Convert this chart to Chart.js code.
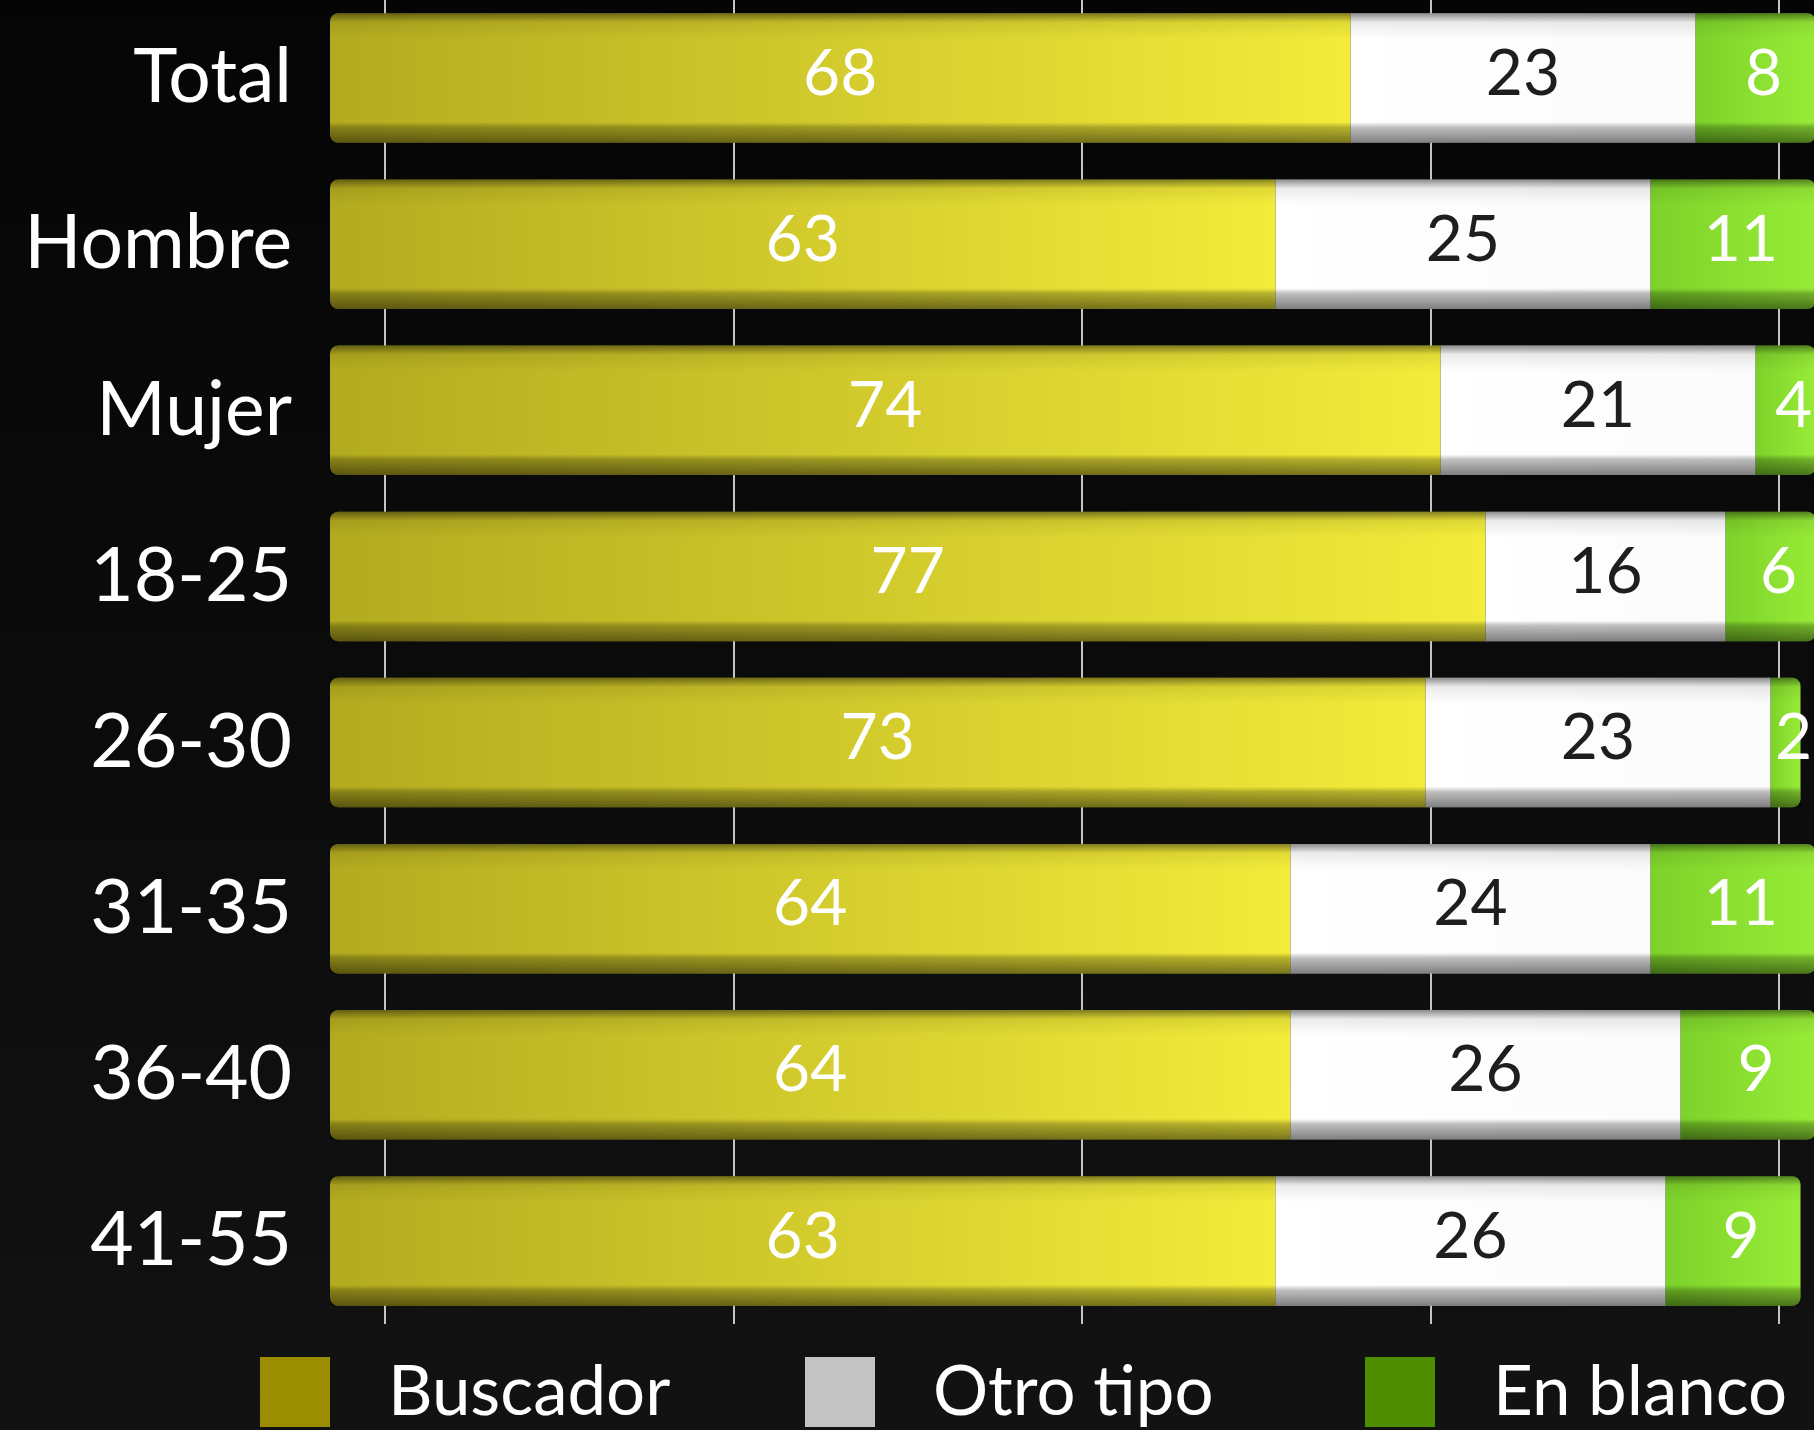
<!DOCTYPE html>
<html><head><meta charset="utf-8">
<script src="https://cdn.jsdelivr.net/npm/chart.js@4/dist/chart.umd.min.js"></script>
<style>
html,body{margin:0;padding:0;background:#0b0b0b;overflow:hidden;width:1814px;height:1430px}
#wrap{position:absolute;left:0;top:-5px;width:1814px;height:1435px}
canvas{display:block}
</style></head><body>
<div id="wrap"><canvas id="c" width="1814" height="1435"></canvas></div>
<script>
const categories = ['Total','Hombre','Mujer','18-25','26-30','31-35','36-40','41-55'];
const seriesNames = ['Buscador','Otro tipo','En blanco'];
const buscador = [68,63,74,77,73,64,64,63];
const otroTipo = [23,25,21,16,23,24,26,26];
const enBlanco = [8,11,4,6,2,11,9,9];

const FONT = 'Lato, "Open Sans", sans-serif';
const legendColors = ['#9a8e00','#c3c3c3','#4e8c00'];
const labelColors = ['#ffffff','#1e1e1e','#ffffff'];
const legendBoxX = [260, 805, 1365];

function hGrad(ctx, stops, di){
  const chart = ctx.chart;
  const xs = chart.scales && chart.scales.x;
  if(!xs || ctx.type !== 'data') return stops[0];
  let start = 0;
  for(let k=0;k<di;k++) start += chart.data.datasets[k].data[ctx.dataIndex];
  const v = chart.data.datasets[di].data[ctx.dataIndex];
  const x0 = xs.getPixelForValue(start), x1 = xs.getPixelForValue(start+v);
  if(!isFinite(x0) || !isFinite(x1)) return stops[0];
  const g = chart.ctx.createLinearGradient(x0,0,Math.max(x1,x0+1),0);
  g.addColorStop(0, stops[0]);
  g.addColorStop(1, stops[1]);
  return g;
}

const bgPlugin = {
  id:'bg',
  beforeDraw(chart){
    const c = chart.ctx;
    const g = c.createLinearGradient(0,0,0,chart.height);
    g.addColorStop(0,'#050505');
    g.addColorStop(1,'#121212');
    c.save(); c.fillStyle = g; c.fillRect(0,0,chart.width,chart.height); c.restore();
  }
};

const shadeAndLabels = {
  id:'shadeAndLabels',
  afterDatasetsDraw(chart){
    const {ctx, chartArea} = chart;
    ctx.save();
    ctx.beginPath(); ctx.rect(chartArea.left, chartArea.top, chartArea.width, chartArea.height); ctx.clip();
    chart.data.datasets.forEach((ds, di) => {
      const meta = chart.getDatasetMeta(di);
      meta.data.forEach((bar) => {
        const p = bar.getProps(['x','y','base','height'], true);
        if(![p.x,p.y,p.base,p.height].every(isFinite)) return;
        const top = p.y - p.height/2, h = p.height;
        const g = ctx.createLinearGradient(0, top, 0, top+h);
        g.addColorStop(0, 'rgba(0,0,0,0.45)');
        g.addColorStop(0.07, 'rgba(0,0,0,0.08)');
        g.addColorStop(0.2, 'rgba(0,0,0,0)');
        g.addColorStop(0.84, 'rgba(0,0,0,0)');
        g.addColorStop(0.88, 'rgba(0,0,0,0.25)');
        g.addColorStop(1, 'rgba(0,0,0,0.5)');
        ctx.fillStyle = g;
        ctx.fillRect(Math.min(p.base,p.x), top, Math.abs(p.x-p.base), h);
      });
    });
    ctx.font = '64px ' + FONT;
    ctx.textAlign = 'center';
    ctx.textBaseline = 'middle';
    chart.data.datasets.forEach((ds, di) => {
      const meta = chart.getDatasetMeta(di);
      meta.data.forEach((bar, i) => {
        const p = bar.getProps(['x','y','base'], true);
        if(![p.x,p.y,p.base].every(isFinite)) return;
        ctx.fillStyle = labelColors[di];
        ctx.fillText(String(ds.data[i]), (p.x + p.base)/2 + (di===2?8:0), p.y - 4);
      });
    });
    ctx.restore();
  }
};

const legendPlugin = {
  id:'customLegend',
  afterDraw(chart){
    const ctx = chart.ctx;
    const boxTop = 1362;
    const box = 70;
    ctx.save();
    ctx.font = '69px ' + FONT;
    ctx.textBaseline = 'alphabetic';
    ctx.textAlign = 'left';
    chart.data.datasets.forEach((ds, di) => {
      const bx = legendBoxX[di];
      ctx.fillStyle = legendColors[di];
      ctx.fillRect(bx, boxTop, box, box);
      ctx.fillStyle = '#ffffff';
      ctx.fillText(ds.label, bx + box + 58, boxTop + 58);
    });
    ctx.restore();
  }
};

new Chart(document.getElementById('c'), {
  type:'bar',
  data:{
    labels: categories,
    datasets:[
      {label:seriesNames[0], data:buscador, backgroundColor:c=>hGrad(c,['#b3ab1f','#f3ec3a'],0),
       borderSkipped:false, borderRadius:{topLeft:8,bottomLeft:8,topRight:0,bottomRight:0}},
      {label:seriesNames[1], data:otroTipo, backgroundColor:c=>hGrad(c,['#ffffff','#fbfbfb'],1), borderRadius:0},
      {label:seriesNames[2], data:enBlanco, backgroundColor:c=>hGrad(c,['#7dd22a','#98ec37'],2),
       borderSkipped:false, borderRadius:{topLeft:0,bottomLeft:0,topRight:8,bottomRight:8}}
    ]
  },
  options:{
    indexAxis:'y',
    responsive:false,
    animation:false,
    datasets:{bar:{barPercentage:0.78, categoryPercentage:1}},
    layout:{padding:{left:0,right:0,top:0,bottom:106}},
    plugins:{legend:{display:false}, tooltip:{enabled:false}},
    scales:{
      x:{stacked:true, min:0, max:98.9, display:false},
      x2:{type:'linear', axis:'x', position:'bottom', min:-3.95, max:102.5,
          ticks:{display:false, stepSize:25, includeBounds:false},
          afterBuildTicks(s){ s.ticks = s.ticks.filter(t => t.value % 25 === 0); },
          grid:{color:'#c4c4c4', lineWidth:2, drawTicks:false},
          border:{display:false},
          afterFit(s){ s.height = 0; s.paddingLeft = 0; s.paddingRight = 0; }},
      y:{stacked:true, grid:{display:false}, border:{display:false},
         ticks:{color:'#ffffff', font:{family:FONT, size:75}, padding:30},
         afterFit(s){ s.width = 330; s.paddingTop = 0; s.paddingBottom = 0; }}
    }
  },
  plugins:[bgPlugin, shadeAndLabels, legendPlugin]
});
</script>
</body></html>
